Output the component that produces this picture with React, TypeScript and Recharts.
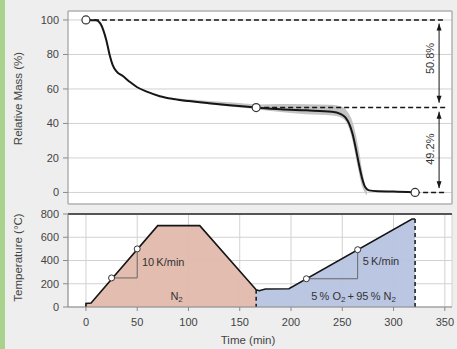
import React from 'react'
import {
  ComposedChart,
  Area,
  Line,
  XAxis,
  YAxis,
  CartesianGrid,
  ReferenceLine,
  ReferenceDot,
  ReferenceArea,
} from 'recharts'

// axis ticks
const timeTicks = [0, 50, 100, 150, 200, 250, 300, 350]
const massTicks = [0, 20, 40, 60, 80, 100]
const tempTicks = [0, 200, 400, 600, 800]

// mass loss curve
const massTime = [0, 10, 14, 17, 20, 23, 26, 30, 36, 43, 50, 60, 72, 85, 100, 120, 140, 166, 190, 215, 240, 248, 253, 257, 260, 263, 266, 269, 272, 276, 285, 300, 321]
const massValue = [100, 99.8, 98, 94, 88, 80, 74, 70, 67.5, 64, 61, 58.3, 55.8, 54.2, 53, 51.7, 50.5, 49.2, 48.2, 47.6, 46.8, 45.6, 43.5, 39.5, 34, 26, 17, 9, 3.5, 1.2, 0.7, 0.5, 0]

// grey spread of the repeat runs
const bandTime = [90, 120, 150, 166, 190, 215, 240, 250, 256, 260, 263, 266, 269, 272, 274]
const bandLow = [53, 51.2, 49.3, 48.3, 46.6, 45.4, 44.6, 43, 38, 30, 21, 12, 4, 0, -1.8]
const bandHigh = [54.5, 53, 51.8, 51, 51.3, 51.2, 50.8, 49.5, 46, 41, 34, 25, 14, 5, 1]

// temperature program
const n2Time = [0, 0, 5, 70, 111, 166]
const n2Temp = [0, 30, 35, 700, 700, 148]
const mixTime = [166, 169, 175, 198, 318, 321]
const mixTemp = [148, 140, 155, 157, 757, 757]

// step marks
const stepTime = [0, 166, 321]
const stepMass = [100, 49.2, 0]
const lossLabels = ['50.8%', '49.2%']

const massData = massTime.map((t, i) => ({ t, m: massValue[i] }))
const bandData = bandTime.map((t, i) => ({ t, range: [bandLow[i], bandHigh[i]] }))
const n2Data = n2Time.map((t, i) => ({ t, T: n2Temp[i] }))
const mixData = mixTime.map((t, i) => ({ t, T: mixTemp[i] }))

const ink = '#161616'
const axisGray = '#8a8a8a'
const gridGray = '#d2d2d2'
const tickStyle = { fontSize: 11, fill: '#444' }
const xDomain = [-17.5, 357]

const arrowHead = (dir: 'up' | 'down') => (p: any) => {
  const h = dir === 'up' ? 7 : -7
  return <path d={`M${p.cx},${p.cy} L${p.cx - 2.5},${p.cy + h} L${p.cx + 2.5},${p.cy + h} Z`} fill={ink} />
}

const rotated = (text: string) => (p: any) => (
  <text x={p.cx} y={p.cy} transform={`rotate(-90 ${p.cx} ${p.cy})`} textAnchor="middle"
    dominantBaseline="central" fontSize={11} fill="#333">{text}</text>
)

const note = (parts: [string, string?][], anchor: 'start' | 'middle') => (p: any) => (
  <text x={p.cx} y={p.cy} textAnchor={anchor} dominantBaseline="central" fontSize={11} fill="#333">
    {parts.map(([main, sub], i) => (
      <React.Fragment key={i}>
        <tspan dy={i > 0 ? -3 : 0}>{main}</tspan>
        {sub && <tspan fontSize={8} dy={3}>{sub}</tspan>}
      </React.Fragment>
    ))}
  </text>
)

export default function App() {
  return (
    <div style={{ position: 'absolute', left: 0, top: 0, width: 457, height: 349, background: '#eeeeee', fontFamily: '"Liberation Sans", Arial, sans-serif' }}>
      <div style={{ position: 'absolute', left: 0, top: 0, width: 5, height: 349, background: '#a9d28c' }} />

      {/* mass */}
      <div style={{ position: 'absolute', left: 0, top: 0 }}>
        <ComposedChart width={457} height={215} margin={{ top: 11, right: 5, bottom: 11, left: 0 }}>
          <CartesianGrid stroke={gridGray} fill="#fff" />
          <XAxis type="number" dataKey="t" domain={xDomain} ticks={timeTicks} height={0}
            tick={false} tickSize={4} axisLine={false} tickLine={{ stroke: axisGray }} allowDataOverflow />
          <YAxis type="number" domain={[-6.7, 105.2]} ticks={massTicks} width={68} tickSize={5} tickMargin={4}
            tick={tickStyle} axisLine={false} tickLine={{ stroke: axisGray }} allowDataOverflow
            label={{ value: 'Relative Mass (%)', angle: -90, position: 'center', dx: -16, dy: -9, style: { fontSize: 11.5, fill: '#444' } }} />
          <ReferenceArea x1={xDomain[0]} x2={xDomain[1]} y1={-6.7} y2={105.2} fill="none" stroke="#a0a0a0" strokeWidth={1} />
          <Area data={bandData} dataKey="range" type="monotone" stroke="none" fill="#c4c4c4" fillOpacity={1} isAnimationActive={false} />
          <Line data={massData} dataKey="m" type="monotone" stroke={ink} strokeWidth={2} dot={false} isAnimationActive={false} />
          {stepTime.map((t, i) => (
            <ReferenceLine key={'d' + i} segment={[{ x: t, y: stepMass[i] }, { x: 351, y: stepMass[i] }]}
              stroke={ink} strokeWidth={1.5} strokeDasharray="5 3" />
          ))}
          <ReferenceLine segment={[{ x: 344.4, y: 97.9 }, { x: 344.4, y: 52 }]} stroke={ink} strokeWidth={1} />
          <ReferenceLine segment={[{ x: 344.4, y: 46.8 }, { x: 344.4, y: 2.5 }]} stroke={ink} strokeWidth={1} />
          <ReferenceDot x={344.4} y={97.9} shape={arrowHead('up')} />
          <ReferenceDot x={344.4} y={52} shape={arrowHead('down')} />
          <ReferenceDot x={344.4} y={46.8} shape={arrowHead('up')} />
          <ReferenceDot x={344.4} y={2.5} shape={arrowHead('down')} />
          <ReferenceDot x={335.3} y={77.7} shape={rotated(lossLabels[0])} />
          <ReferenceDot x={335.3} y={25.1} shape={rotated(lossLabels[1])} />
          {stepTime.map((t, i) => (
            <ReferenceDot key={'c' + i} x={t} y={stepMass[i]} r={4} fill="#fff" stroke="#333" strokeWidth={1.2} />
          ))}
        </ComposedChart>
      </div>

      {/* temperature */}
      <div style={{ position: 'absolute', left: 0, top: 200 }}>
        <ComposedChart width={457} height={149} margin={{ top: 14, right: 5, bottom: 0, left: 0 }}>
          <CartesianGrid stroke={gridGray} fill="#fff" />
          <XAxis type="number" dataKey="t" domain={xDomain} ticks={timeTicks} height={42}
            tick={tickStyle} tickSize={4} tickMargin={7} axisLine={{ stroke: axisGray }} tickLine={{ stroke: axisGray }} allowDataOverflow
            label={{ value: 'Time (min)', position: 'insideBottom', offset: 5, dx: -12, style: { fontSize: 11.5, fill: '#444' } }} />
          <YAxis type="number" domain={[0, 800]} ticks={tempTicks} width={68} tickSize={5} tickMargin={4}
            tick={tickStyle} axisLine={{ stroke: axisGray }} tickLine={{ stroke: axisGray }}
            label={{ value: 'Temperature (°C)', angle: -90, position: 'center', dx: -16, dy: -3, style: { fontSize: 11.5, fill: '#444' } }} />
          <Area data={n2Data} dataKey="T" type="linear" stroke="none" fill="#e2b9ac" fillOpacity={0.95} isAnimationActive={false} />
          <Area data={mixData} dataKey="T" type="linear" stroke="none" fill="#b7c3e2" fillOpacity={0.95} isAnimationActive={false} />
          <Line data={n2Data} dataKey="T" type="linear" stroke={ink} strokeWidth={1.6} dot={false} isAnimationActive={false} />
          <Line data={mixData} dataKey="T" type="linear" stroke={ink} strokeWidth={1.6} dot={false} isAnimationActive={false} />
          <ReferenceLine y={800} stroke="#555" strokeWidth={2} />
          <ReferenceLine segment={[{ x: 166, y: 148 }, { x: 166, y: 0 }]} stroke={ink} strokeWidth={1.5} strokeDasharray="4 3" />
          <ReferenceLine segment={[{ x: 321, y: 757 }, { x: 321, y: 0 }]} stroke={ink} strokeWidth={1.5} strokeDasharray="4 3" />
          <ReferenceLine segment={[{ x: 25, y: 250 }, { x: 50, y: 250 }]} stroke="#666" strokeWidth={1} />
          <ReferenceLine segment={[{ x: 50, y: 250 }, { x: 50, y: 500 }]} stroke="#666" strokeWidth={1} />
          <ReferenceLine segment={[{ x: 215, y: 243 }, { x: 265, y: 243 }]} stroke="#666" strokeWidth={1} />
          <ReferenceLine segment={[{ x: 265, y: 243 }, { x: 265, y: 493 }]} stroke="#666" strokeWidth={1} />
          <ReferenceDot x={25} y={250} r={3} fill="#fff" stroke="#333" strokeWidth={1} />
          <ReferenceDot x={50} y={500} r={3} fill="#fff" stroke="#333" strokeWidth={1} />
          <ReferenceDot x={215} y={243} r={3} fill="#fff" stroke="#333" strokeWidth={1} />
          <ReferenceDot x={265} y={493} r={3} fill="#fff" stroke="#333" strokeWidth={1} />
          <ReferenceDot x={54.6} y={390} shape={note([['10\u2009K/min']], 'start')} />
          <ReferenceDot x={270} y={392} shape={note([['5\u2009K/min']], 'start')} />
          <ReferenceDot x={88.4} y={91} shape={note([['N', '2']], 'middle')} />
          <ReferenceDot x={261} y={91} shape={note([['5\u2009% O', '2'], ['\u2009+\u200995\u2009% N', '2']], 'middle')} />
        </ComposedChart>
      </div>
    </div>
  )
}
